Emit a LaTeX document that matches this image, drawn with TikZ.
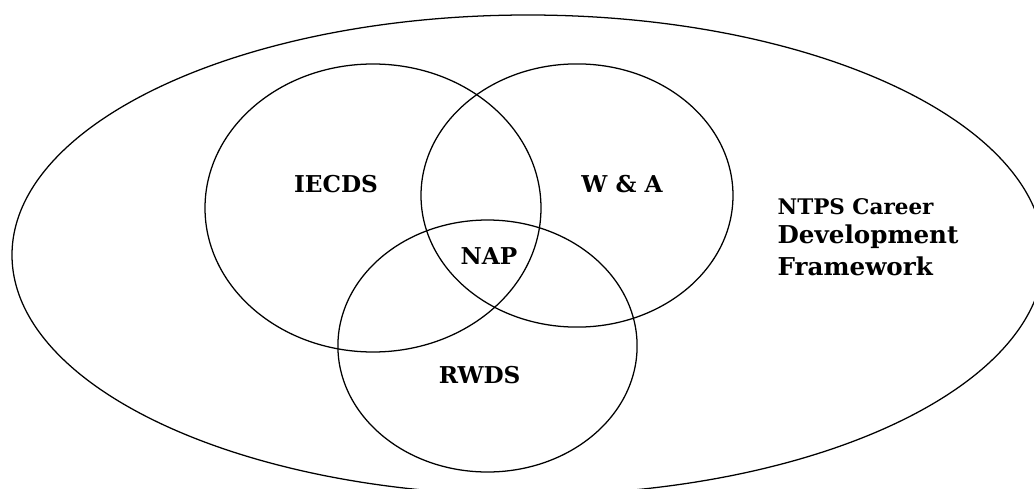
\documentclass[tikz,border=0pt]{standalone}
\usepackage{fontspec}
\setmainfont{DejaVu Serif}
\tikzset{
  setlabel/.style={font=\bfseries\fontsize{16.5}{21}\selectfont, inner sep=0pt},
  titlelabel/.style={font=\bfseries\fontsize{17.5}{21}\selectfont, inner sep=0pt, anchor=base west}
}
\begin{document}
\begin{tikzpicture}[line width=0.9pt]
      \useasboundingbox (0,0) rectangle (25.85,12.2);
      \clip (0,0) rectangle (25.85,12.2);
      \draw (13.2,5.825) ellipse (12.9cm and 6cm);
      \draw (9.325,7) ellipse (4.2cm and 3.6cm);
      \draw (14.425,7.3125) ellipse (3.9cm and 3.29cm);
      \draw (12.1875,3.55) ellipse (3.74cm and 3.15cm);
      \node[setlabel, anchor=base] (iecds) at (8.4,7.375) {IECDS};
      \node[setlabel, anchor=base] (wa) at (15.55,7.375) {W \& A};
      \node[setlabel, anchor=base] (nap) at (12.225,5.6) {NAP};
      \node[setlabel, anchor=base] (rwds) at (11.99,2.625) {RWDS};
      \node[titlelabel, font=\bfseries\fontsize{15.3}{21}\selectfont] (ntps) at (19.425,6.825) {NTPS Career};
      \node[titlelabel] (devel) at (19.425,6.125) {Development};
      \node[titlelabel] (frame) at (19.425,5.325) {Framework};
    \end{tikzpicture}
\end{document}
